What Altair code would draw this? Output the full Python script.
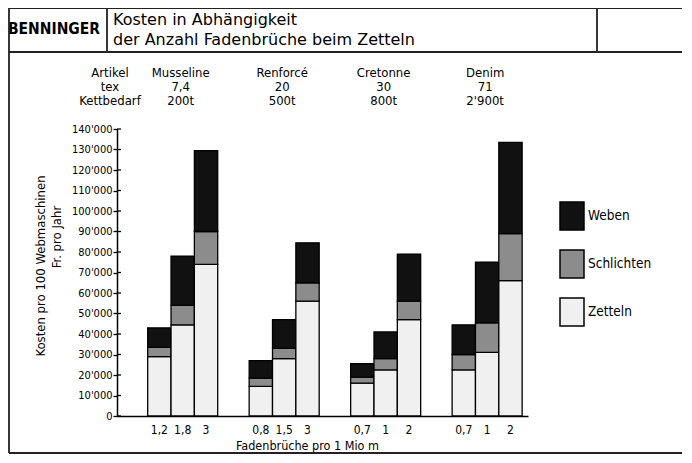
import altair as alt
import pandas as pd

# ---------------- data ----------------
artikel = ["Musseline", "Renforcé", "Cretonne", "Denim"]
tex = ["7,4", "20", "30", "71"]
kettbedarf = ["200t", "500t", "800t", "2'900t"]
bruch_labels = [["1,2", "1,8", "3"], ["0,8", "1,5", "3"], ["0,7", "1", "2"], ["0,7", "1", "2"]]
zetteln = [[29000, 44500, 74000], [14500, 28000, 56000], [16000, 22500, 47000], [22500, 31000, 66000]]
schlichten = [[4500, 9500, 16000], [4000, 5000, 9000], [3000, 5500, 9000], [7500, 14500, 23000]]
weben = [[9500, 24000, 39500], [8500, 14000, 19500], [6500, 13000, 23000], [14500, 29500, 44500]]
kategorien = ["Weben", "Schlichten", "Zetteln"]
farben = ["#111111", "#8c8c8c", "#f0f0f0"]
y_ticks = list(range(0, 140001, 10000))

FONT = "DejaVu Sans Condensed"
W, H = 411, 287

rows = []
for gi, a in enumerate(artikel):
    for bi in range(3):
        for kat, vals, o in (("Zetteln", zetteln, 0), ("Schlichten", schlichten, 1), ("Weben", weben, 2)):
            rows.append({"Artikel": a, "Idx": bi, "Kategorie": kat, "Wert": vals[gi][bi], "Ord": o})
df = pd.DataFrame(rows)

df_lab = pd.DataFrame([{"Artikel": a, "Idx": bi, "Label": bruch_labels[gi][bi]}
                       for gi, a in enumerate(artikel) for bi in range(3)])
df_tab = pd.DataFrame({"Artikel": artikel, "tex": tex, "Kett": kettbedarf})
df_ticks = pd.DataFrame({"Wert": y_ticks})
one = pd.DataFrame({"a": [0]})

x_scale = alt.Scale(paddingInner=0.31, paddingOuter=0.18, align=0.84)
xoff_scale = alt.Scale(paddingInner=0, paddingOuter=0)
y_scale = alt.Scale(domain=[0, 140000], nice=False)
y_axis = alt.Axis(values=y_ticks, title=None, grid=False, domainColor="black", domainWidth=1.5,
                  tickColor="black", tickWidth=1.3, tickSize=4, labelPadding=1,
                  labelFont=FONT, labelFontSize=11, labelColor="black",
                  labelExpr="datum.value == 0 ? '0' : format(datum.value / 1000, 'd') + \"'000\"")

bars = alt.Chart(df).mark_bar(stroke="black", strokeWidth=1.3).encode(
    x=alt.X("Artikel:N", sort=artikel, scale=x_scale,
            axis=alt.Axis(labels=False, ticks=False, domainColor="black", domainWidth=1.5,
                          title="Fadenbrüche pro 1 Mio m", titleX=190, titleY=29,
                          titleAlign="center", titleBaseline="middle", titleFont=FONT,
                          titleFontSize=12.5, titleFontWeight="normal", titleColor="black")),
    xOffset=alt.XOffset("Idx:O", scale=xoff_scale),
    y=alt.Y("Wert:Q", stack="zero", scale=y_scale, axis=y_axis),
    color=alt.Color("Kategorie:N", scale=alt.Scale(domain=kategorien, range=farben),
                    legend=alt.Legend(title=None, orient="none", legendX=440, legendY=72,
                                      symbolType="M-0.857,-1H0.857V1H-0.857Z", symbolSize=784,
                                      symbolStrokeColor="black", symbolStrokeWidth=1.5, symbolOpacity=1,
                                      labelFont=FONT, labelFontSize=13.5, labelColor="black",
                                      labelOffset=1, rowPadding=14, padding=0, direction="vertical")),
    order=alt.Order("Ord:Q"),
)

tick_in = alt.Chart(df_ticks).mark_rule(color="black", strokeWidth=1.3).encode(
    y=alt.Y("Wert:Q", scale=y_scale, axis=y_axis), x=alt.value(0), x2=alt.value(4))

bar_labels = alt.Chart(df_lab).mark_text(font=FONT, fontSize=12, color="black", baseline="middle").encode(
    x=alt.X("Artikel:N", sort=artikel), xOffset=alt.XOffset("Idx:O"), y=alt.value(H + 14), text="Label:N")

tab_name = alt.Chart(df_tab).mark_text(font=FONT, fontSize=13, color="black", dx=-2, baseline="middle").encode(
    x=alt.X("Artikel:N", sort=artikel), y=alt.value(-56), text="Artikel:N")
tab_tex = alt.Chart(df_tab).mark_text(font=FONT, fontSize=13, color="black", dx=-2, baseline="middle").encode(
    x=alt.X("Artikel:N", sort=artikel), y=alt.value(-42), text="tex:N")
tab_kett = alt.Chart(df_tab).mark_text(font=FONT, fontSize=13, color="black", dx=-2, baseline="middle").encode(
    x=alt.X("Artikel:N", sort=artikel), y=alt.value(-28), text="Kett:N")

def label(txt, x, y, **kw):
    opts = dict(font=FONT, fontSize=13, color="black", baseline="middle", align="center")
    opts.update(kw)
    return alt.Chart(one).mark_text(text=txt, **opts).encode(x=alt.value(x), y=alt.value(y))

row_heads = [label("Artikel", -7, -56), label("tex", -7, -42), label("Kettbedarf", -7, -28)]
y_titles = [label("Kosten pro 100 Webmaschinen", -76, 137, angle=270),
            label("Fr. pro Jahr", -60, 108, angle=270)]
header = [
    label("BENNINGER", -63, -100, fontSize=15.5, fontWeight="bold"),
    label("Kosten in Abhängigkeit", -4, -104, font="DejaVu Sans", fontSize=16, align="left", baseline="alphabetic"),
    label("der Anzahl Fadenbrüche beim Zetteln", -4, -84, font="DejaVu Sans", fontSize=16, align="left", baseline="alphabetic"),
]

def hline(y, x1=-108, x2=565):
    return alt.Chart(one).mark_rule(color="#222222", strokeWidth=1.8).encode(
        x=alt.value(x1), x2=alt.value(x2), y=alt.value(y))

def vline(x, y1, y2):
    return alt.Chart(one).mark_rule(color="#222222", strokeWidth=1.8).encode(
        x=alt.value(x), y=alt.value(y1), y2=alt.value(y2))

frame = [hline(-121), hline(-77), hline(324), vline(-108, -121, 324), vline(-10, -121, -77), vline(480, -121, -77)]

chart = alt.layer(bars, tick_in, bar_labels, tab_name, tab_tex, tab_kett,
                  *row_heads, *y_titles, *header, *frame).properties(
    width=W, height=H,
    autosize=alt.AutoSizeParams(type="none"),
    padding={"left": 109, "top": 121, "right": 154, "bottom": 38},
    background="white",
).configure_view(strokeWidth=0)

chart.save("out.html", embed_options={"renderer": "svg", "actions": False})
